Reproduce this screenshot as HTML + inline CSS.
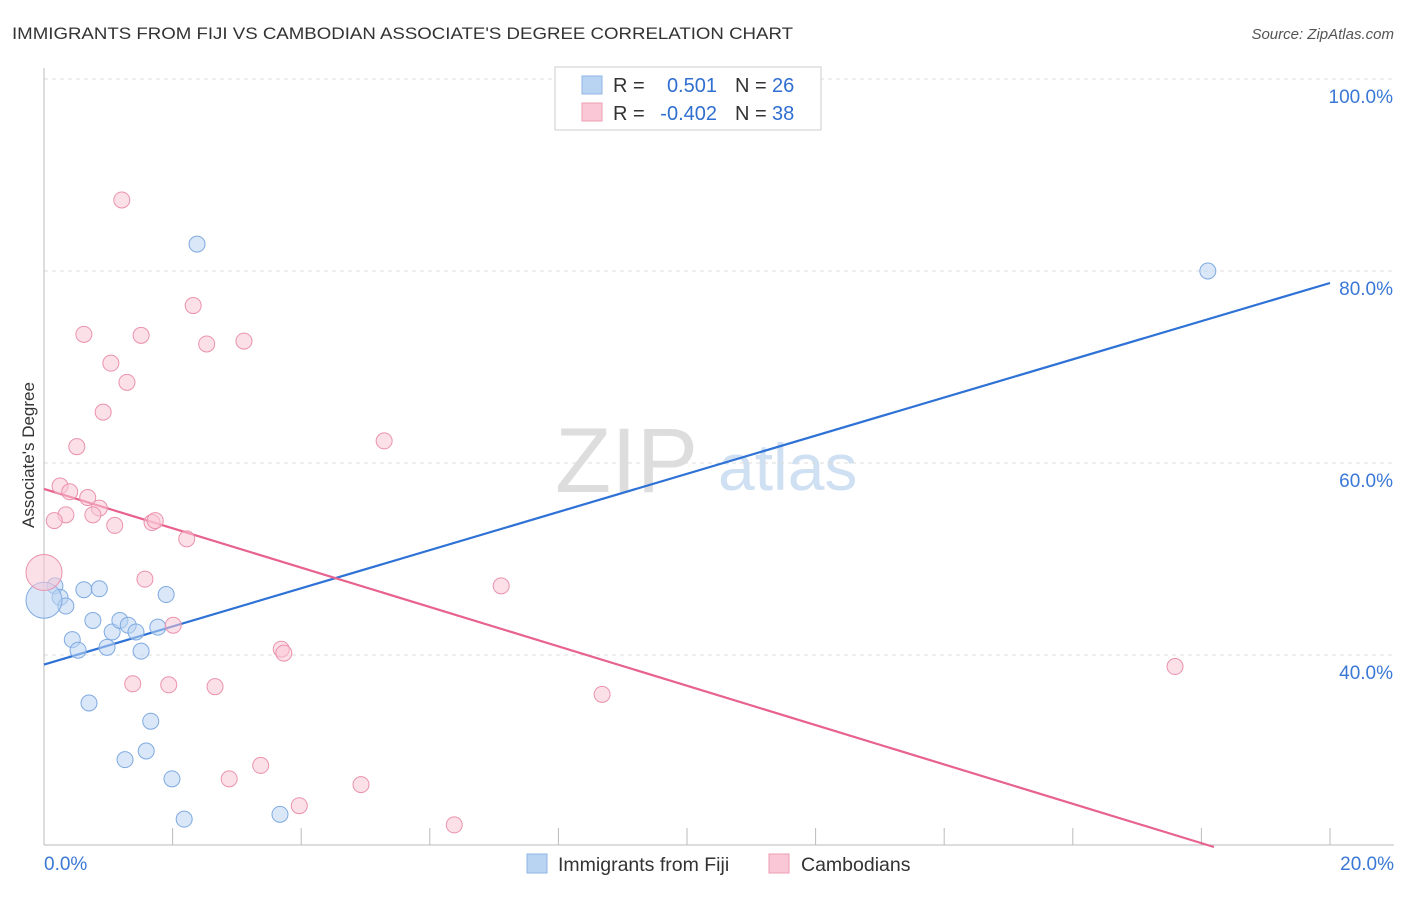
<!DOCTYPE html>
<html><head><meta charset="utf-8">
<style>
body{margin:0;background:#fff;font-family:"Liberation Sans",sans-serif;}
svg text{font-family:"Liberation Sans",sans-serif;}
</style></head>
<body>
<svg id="chart" width="1406" height="892" xmlns="http://www.w3.org/2000/svg">
<text x="12" y="39" font-size="17" fill="#333" textLength="781" lengthAdjust="spacingAndGlyphs">IMMIGRANTS FROM FIJI VS CAMBODIAN ASSOCIATE'S DEGREE CORRELATION CHART</text>
<text x="1394" y="39" font-size="15" fill="#555" text-anchor="end" font-style="italic">Source: ZipAtlas.com</text>
<text transform="translate(34,455) rotate(-90)" font-size="17" fill="#333" text-anchor="middle">Associate's Degree</text>
<text x="555" y="492" font-size="92" fill="#ddd" font-family="Liberation Serif">ZIP</text>
<text x="718" y="490" font-size="66" fill="#cfe0f3">atlas</text>
<g id="grid"></g><g id="ticks"></g><g id="lines"></g><g id="points"></g>
<g>
<rect x="555" y="67" width="266" height="63" fill="#fff" stroke="#ccc"/>
<rect x="582" y="76" width="20" height="18" fill="#b9d3f3" stroke="#8fb5e6"/>
<rect x="582" y="103" width="20" height="18" fill="#f9c7d5" stroke="#ee9db5"/>
<text x="613" y="92" font-size="20" fill="#333">R =</text>
<text x="717" y="92" font-size="20" fill="#2f6fd0" text-anchor="end">0.501</text>
<text x="735" y="92" font-size="20" fill="#333">N =</text>
<text x="772" y="92" font-size="20" fill="#2f6fd0">26</text>
<text x="613" y="120" font-size="20" fill="#333">R =</text>
<text x="717" y="120" font-size="20" fill="#2f6fd0" text-anchor="end">-0.402</text>
<text x="735" y="120" font-size="20" fill="#333">N =</text>
<text x="772" y="120" font-size="20" fill="#2f6fd0">38</text>
</g>
<g>
<rect x="527" y="854" width="20" height="19" fill="#b9d3f3" stroke="#8fb5e6"/>
<text x="558" y="871" font-size="19.5" fill="#333">Immigrants from Fiji</text>
<rect x="769" y="854" width="20" height="19" fill="#f9c7d5" stroke="#ee9db5"/>
<text x="801" y="871" font-size="19.5" fill="#333">Cambodians</text>
</g>
</svg>
<script>
const fijiX=[0.17,0.25,0.34,0.62,0.86,0.76,0.44,0.53,0.98,1.06,1.18,1.31,1.43,1.51,1.77,1.90,0.70,1.26,1.59,1.66,1.99,2.18,3.67,2.38,18.10,0];
const fijiY=[47.2,46.0,45.1,46.8,46.9,43.6,41.6,40.5,40.8,42.4,43.6,43.1,42.4,40.4,42.9,46.3,35.0,29.1,30.0,33.1,27.1,22.9,23.4,82.8,80.0,45.7];
const fijiSize=[8,8,8,8,8,8,8,8,8,8,8,8,8,8,8,8,8,8,8,8,8,8,8,8,8,18];
const camX=[1.21,0.62,1.51,2.32,2.53,3.11,1.04,1.29,0.92,0.51,5.29,0.25,0.40,0.68,0.86,0.76,0.34,0.16,1.10,1.68,1.73,2.22,1.57,2.01,3.69,3.73,7.11,1.38,1.94,2.66,8.68,17.59,2.88,3.37,3.97,4.93,6.38,0];
const camY=[87.4,73.4,73.3,76.4,72.4,72.7,70.4,68.4,65.3,61.7,62.3,57.6,57.0,56.4,55.3,54.6,54.6,54.0,53.5,53.8,54.0,52.1,47.9,43.1,40.6,40.2,47.2,37.0,36.9,36.7,35.9,38.8,27.1,28.5,24.3,26.5,22.3,48.6];
const camSize=[8,8,8,8,8,8,8,8,8,8,8,8,8,8,8,8,8,8,8,8,8,8,8,8,8,8,8,8,8,8,8,8,8,8,8,8,8,18];
const fijiTrend=[39.0,78.75];
const camTrend=[57.3,-2.05];
const yTicks=[40,60,80,100];
const yTickLabels=["40.0%","60.0%","80.0%","100.0%"];
const xTicks=[0,2,4,6,8,10,12,14,16,18,20];
const xLabels=["0.0%","20.0%"];
const NS="http://www.w3.org/2000/svg";
const yMin=20;
const sx=v=>44+v*64.3, sy=v=>847-(v-yMin)*9.6;
function mk(t,a,p){const e=document.createElementNS(NS,t);for(const k in a)e.setAttribute(k,a[k]);p.appendChild(e);return e;}
const grid=document.getElementById('grid'),ticks=document.getElementById('ticks');
yTicks.forEach((v,i)=>{
 const l=mk('line',{x1:44,x2:1394,y1:sy(v),y2:sy(v),stroke:'#ddd','stroke-dasharray':'4,4'},grid);
 
 
 const t=mk('text',{x:1393,y:sy(v)+24,'font-size':19,fill:'#3a78d6','text-anchor':'end'},ticks);
 t.textContent=yTickLabels[i];
 
 
});
const ax=mk('line',{x1:44,x2:44,y1:68,y2:845,stroke:'#bbb'},ticks);


const bx=mk('line',{x1:44,x2:1394,y1:845,y2:845,stroke:'#bbb'},ticks);


xTicks.forEach(v=>{
 const l=mk('line',{x1:sx(v),x2:sx(v),y1:828,y2:845,stroke:'#bbb'},ticks);
 
 
});
[[0,'start'],[20,'end']].forEach((p,i)=>{
 const t=mk('text',{x:i?1394:44,y:870,'font-size':19,fill:'#3a78d6','text-anchor':p[1]},ticks);
 t.textContent=xLabels[i];
 
 
});
const lines=document.getElementById('lines'),pts=document.getElementById('points');
function drawPts(X,Y,S,fill,stroke,name){X.forEach((x,i)=>{
 const c=mk('circle',{cx:sx(x),cy:sy(Y[i]),r:S[i],fill:fill,stroke:stroke,'stroke-width':1,'fill-opacity':0.55},pts);
 
 
});}
drawPts(fijiX,fijiY,fijiSize,'#b9d3f3','#7faae0','fiji-point');
drawPts(camX,camY,camSize,'#f9c7d5','#ea92ad','cambodian-point');
const bl=mk('line',{x1:sx(0),y1:sy(fijiTrend[0]),x2:sx(20),y2:sy(fijiTrend[1]),stroke:'#2f72d6','stroke-width':2.2},lines);


const xe=Math.min(20,(yMin-camTrend[0])/camTrend[1]);
const pl=mk('line',{x1:sx(0),y1:sy(camTrend[0]),x2:sx(xe),y2:sy(camTrend[0]+camTrend[1]*xe),stroke:'#e8628e','stroke-width':2.2},lines);


</script>
</body></html>
